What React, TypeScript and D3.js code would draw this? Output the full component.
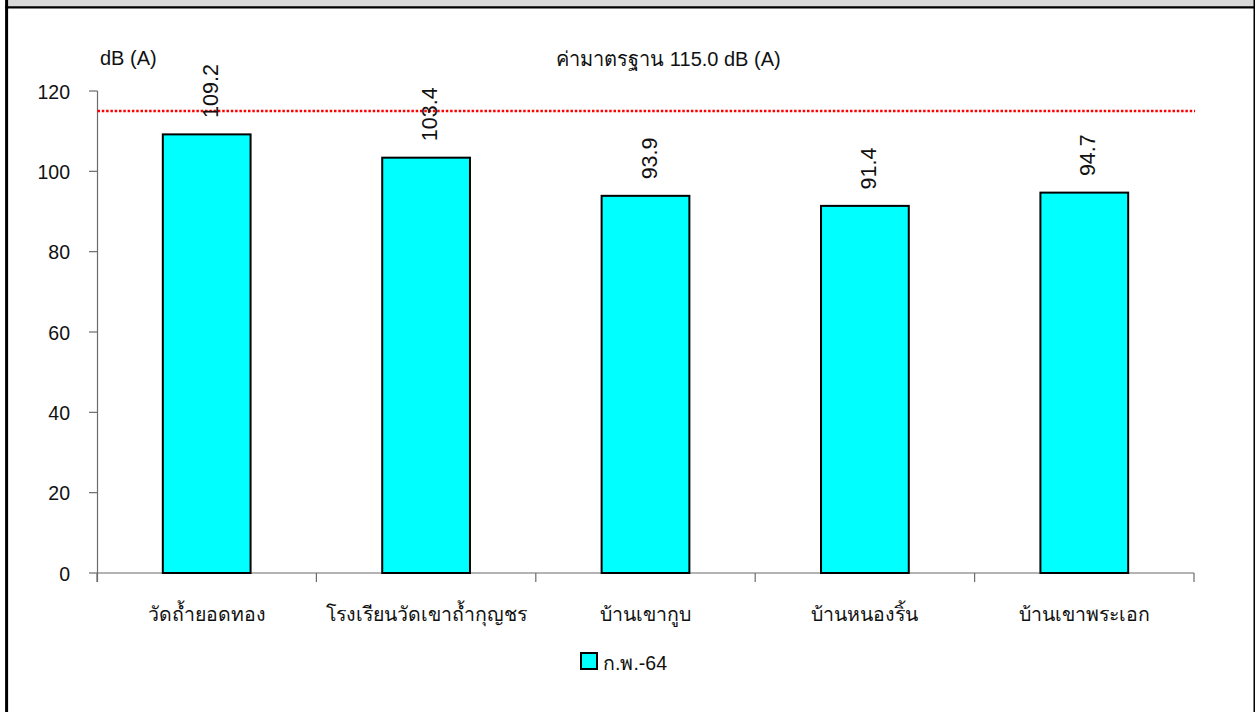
import React from "react";
import * as d3 from "d3";

const categories = [
  "วัดถ้ำยอดทอง",
  "โรงเรียนวัดเขาถ้ำกุญชร",
  "บ้านเขากูบ",
  "บ้านหนองริ้น",
  "บ้านเขาพระเอก",
];
const values = [109.2, 103.4, 93.9, 91.4, 94.7];
const yTicks = [0, 20, 40, 60, 80, 100, 120];
const standard = 115.0;
const seriesName = "ก.พ.-64";
const yLabel = "dB (A)";
const standardLabel = "ค่ามาตรฐาน 115.0 dB (A)";

const W = 1255;
const H = 712;
const FONT = "Tahoma, 'Liberation Sans', 'Noto Sans', 'DejaVu Sans', sans-serif";

export default function App() {
  const x = d3.scaleBand<string>().domain(categories).range([97, 1194]).paddingInner(0).paddingOuter(0);
  const y = d3.scaleLinear().domain([0, 120]).range([573, 91]);
  const bw = x.bandwidth() * 0.4;
  const axisColor = "#6b6b6b";
  const boundaries = [...categories.map((c) => x(c)!), 1194];

  return (
    <svg
      width={W}
      height={H}
      style={{ position: "absolute", left: 0, top: 0, background: "#fff" }}
      fontFamily={FONT}
    >
      {/* frame */}
      <rect x={8} y={0} width={W - 8} height={7} fill="#d9d9d9" />
      <line x1={5} x2={W} y1={7.3} y2={7.3} stroke="#000" strokeWidth={2.2} />
      <line x1={6.6} x2={6.6} y1={0} y2={H} stroke="#000" strokeWidth={3} />
      <line x1={1254.3} x2={1254.3} y1={0} y2={H} stroke="#000" strokeWidth={1.6} />

      {/* y axis */}
      <line x1={97.5} x2={97.5} y1={y(120)} y2={582} stroke={axisColor} strokeWidth={1.2} />
      {yTicks.map((t) => (
        <g key={t}>
          <line x1={89} x2={97.5} y1={y(t)} y2={y(t)} stroke={axisColor} strokeWidth={1.2} />
          <text x={70} y={y(t) + 7.5} textAnchor="end" fontSize={19.5} fill="#111">
            {t}
          </text>
        </g>
      ))}

      {/* x axis */}
      <line x1={97.5} x2={1194} y1={y(0)} y2={y(0)} stroke={axisColor} strokeWidth={1.2} />
      {boundaries.map((b, i) => (
        <line key={i} x1={b} x2={b} y1={y(0)} y2={582} stroke={axisColor} strokeWidth={1.2} />
      ))}

      {/* bars */}
      {categories.map((c, i) => {
        const cx = x(c)! + x.bandwidth() / 2;
        return (
          <rect
            key={c}
            x={cx - bw / 2}
            y={y(values[i])}
            width={bw}
            height={y(0) - y(values[i])}
            fill="#00ffff"
            stroke="#000"
            strokeWidth={2}
          />
        );
      })}

      {/* standard line */}
      <line
        x1={97.5}
        x2={1195}
        y1={y(standard)}
        y2={y(standard)}
        stroke="#ff0000"
        strokeWidth={2.5}
        strokeDasharray="2.5,1.8"
      />

      {/* value labels */}
      {categories.map((c, i) => {
        const cx = x(c)! + x.bandwidth() / 2 + 4;
        const ty = y(values[i]) - 16.5;
        return (
          <text
            key={c}
            transform={`translate(${cx},${ty}) rotate(-90)`}
            textAnchor="start"
            dominantBaseline="central"
            fontSize={21.5}
            fill="#111"
          >
            {values[i].toFixed(1)}
          </text>
        );
      })}

      {/* axis title and standard label */}
      <text x={100} y={65} fontSize={20} fill="#111">
        {yLabel}
      </text>
      <text x={668.5} y={66} fontSize={20} textAnchor="middle" fill="#111">
        {standardLabel}
      </text>

      {/* category labels */}
      {categories.map((c) => (
        <text key={c} x={x(c)! + x.bandwidth() / 2} y={621} textAnchor="middle" fontSize={19.5} fill="#111">
          {c}
        </text>
      ))}

      {/* legend */}
      <rect x={581} y={653} width={16} height={16} fill="#00ffff" stroke="#000" strokeWidth={2} />
      <text x={603} y={670} fontSize={19.5} fill="#111">
        {seriesName}
      </text>
    </svg>
  );
}
